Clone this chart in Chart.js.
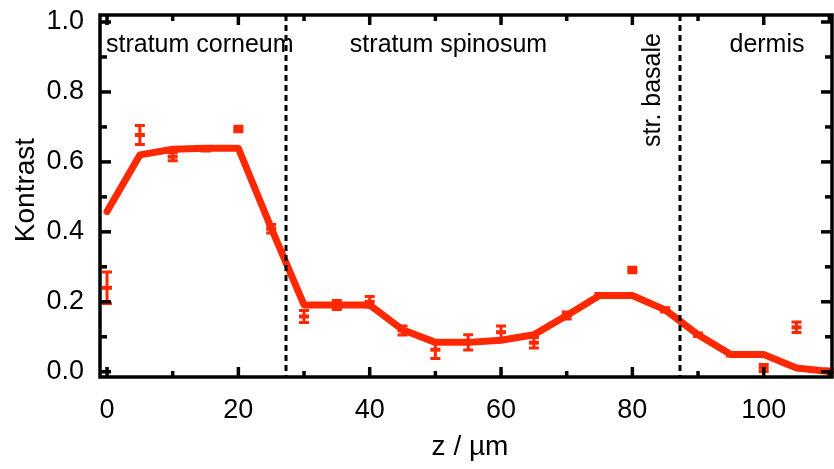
<!DOCTYPE html>
<html>
<head>
<meta charset="utf-8">
<script src="https://cdn.jsdelivr.net/npm/chart.js@4.4.0/dist/chart.umd.min.js"></script>
<style>
  html, body { margin: 0; padding: 0; background: #fff; }
  #wrap { width: 834px; height: 469px; }
</style>
</head>
<body>
<div id="wrap"><canvas id="kontrastChart"></canvas></div>
<script>
// Depth positions (µm)
const zValues = [0, 5, 10, 15, 20, 25, 30, 35, 40, 45, 50, 55, 60, 65, 70, 75, 80, 85, 90, 95, 100, 105, 110];
// Smoothed curve (thick line)
const fitValues = [0.458, 0.62, 0.636, 0.639, 0.639, 0.411, 0.191, 0.191, 0.191, 0.12, 0.084, 0.084, 0.09, 0.106, 0.161, 0.218, 0.218, 0.177, 0.106, 0.049, 0.049, 0.011, 0.001];
// Measured contrast with error
const measured = [0.24, 0.677, 0.615, 0.637, 0.694, 0.409, 0.158, 0.191, 0.2, 0.118, 0.063, 0.084, 0.113, 0.083, 0.161, 0.218, 0.291, 0.177, 0.106, 0.049, 0.011, 0.127, 0.003];
const measuredErr = [0.045, 0.027, 0.012, 0.006, 0.008, 0.012, 0.017, 0.013, 0.015, 0.013, 0.025, 0.022, 0.018, 0.015, 0.01, 0.006, 0.008, 0.006, 0.005, 0.004, 0.01, 0.015, 0.005];

// Axis ticks
const xTicks = [0, 20, 40, 60, 80, 100];
const xMinorTicks = [10, 30, 50, 70, 90, 110];
const yTicks = [0, 0.2, 0.4, 0.6, 0.8, 1.0];
const yMinorTicks = [0.1, 0.3, 0.5, 0.7, 0.9];

// Layer boundaries and names
const layerBounds = [27.3, 87.3];
const layerNames = ['stratum corneum', 'stratum spinosum', 'str. basale', 'dermis'];

const red = '#ff2800';
const font = '"Liberation Sans", Arial, sans-serif';

// Draw the frame, inward ticks, boundaries, error bars and labels
const decorations = {
    id: 'decorations',
    afterDatasetsDraw(chart) {
        const ctx = chart.ctx;
        const x = chart.scales.x, y = chart.scales.y;
        const ds = chart.data.datasets[1].data;
        ctx.save();
        ctx.strokeStyle = red;
        ctx.lineWidth = 3;
        ds.forEach((p, i) => {
            const px = x.getPixelForValue(p.x);
            const top = y.getPixelForValue(p.y + measuredErr[i]);
            const bot = y.getPixelForValue(p.y - measuredErr[i]);
            ctx.beginPath();
            ctx.moveTo(px, top); ctx.lineTo(px, bot);
            ctx.moveTo(px - 5, top); ctx.lineTo(px + 5, top);
            ctx.moveTo(px - 5, bot); ctx.lineTo(px + 5, bot);
            ctx.stroke();
        });
        ctx.restore();
    },
    afterDraw(chart) {
        const ctx = chart.ctx;
        const a = chart.chartArea;
        const x = chart.scales.x, y = chart.scales.y;
        ctx.save();

        // layer boundaries
        ctx.strokeStyle = '#000';
        ctx.lineWidth = 3;
        ctx.setLineDash([6, 4]);
        layerBounds.forEach(b => {
            const px = Math.round(x.getPixelForValue(b));
            ctx.beginPath();
            ctx.moveTo(px, a.top); ctx.lineTo(px, a.bottom);
            ctx.stroke();
        });
        ctx.setLineDash([]);

        // frame
        ctx.lineWidth = 3.5;
        ctx.strokeRect(a.left, a.top, a.right - a.left, a.bottom - a.top);

        // ticks
        const tick = (x1, y1, x2, y2) => { ctx.beginPath(); ctx.moveTo(x1, y1); ctx.lineTo(x2, y2); ctx.stroke(); };
        xTicks.forEach(v => {
            const px = x.getPixelForValue(v);
            tick(px, a.bottom, px, a.bottom - 10);
            tick(px, a.top, px, a.top + 10);
        });
        xMinorTicks.forEach(v => {
            const px = x.getPixelForValue(v);
            tick(px, a.bottom, px, a.bottom - 6);
            tick(px, a.top, px, a.top + 6);
        });
        yTicks.forEach(v => {
            const py = y.getPixelForValue(v);
            tick(a.left, py, a.left + 11, py);
            tick(a.right, py, a.right - 11, py);
        });
        yMinorTicks.forEach(v => {
            const py = y.getPixelForValue(v);
            tick(a.left, py, a.left + 7, py);
            tick(a.right, py, a.right - 7, py);
        });

        // layer names
        ctx.fillStyle = '#000';
        ctx.font = '25px ' + font;
        ctx.textBaseline = 'middle';
        const labelY = a.top + 30;
        ctx.textAlign = 'left';
        ctx.fillText(layerNames[0], a.left + 6, labelY);
        ctx.textAlign = 'center';
        ctx.fillText(layerNames[1], x.getPixelForValue(52), labelY);
        ctx.fillText(layerNames[3], x.getPixelForValue(100.5), labelY);
        ctx.save();
        ctx.translate(x.getPixelForValue(83.2), a.top + 75);
        ctx.rotate(-Math.PI / 2);
        ctx.fillText(layerNames[2], 0, 0);
        ctx.restore();

        // axis titles
        ctx.font = '28px ' + font;
        ctx.fillText('z / µm', (a.left + a.right) / 2 + 4, 447);
        ctx.save();
        ctx.translate(26, 190);
        ctx.rotate(-Math.PI / 2);
        ctx.fillText('Kontrast', 0, 0);
        ctx.restore();

        ctx.restore();
    }
};

new Chart(document.getElementById('kontrastChart').getContext('2d'), {
    type: 'line',
    data: {
        datasets: [{
            label: 'Fit',
            data: zValues.map((z, i) => ({ x: z, y: fitValues[i] })),
            borderColor: red,
            borderWidth: 7,
            pointRadius: 0,
            tension: 0,
            borderJoinStyle: 'round',
            borderCapStyle: 'round'
        }, {
            label: 'Messung',
            data: zValues.map((z, i) => ({ x: z, y: measured[i] })),
            showLine: false,
            pointStyle: 'line',
            pointRadius: 5,
            borderColor: red,
            backgroundColor: red,
            borderWidth: 4
        }]
    },
    options: {
        responsive: true,
        maintainAspectRatio: false,
        animation: false,
        layout: { autoPadding: false, padding: { left: 0, right: 2, top: 15, bottom: 0 } },
        plugins: {
            legend: { display: false },
            tooltip: { enabled: false }
        },
        scales: {
            x: {
                type: 'linear',
                min: -1.07,
                max: 110.4,
                afterBuildTicks: s => { s.ticks = xTicks.map(v => ({ value: v })); },
                afterFit: s => { s.height = 92; s.paddingLeft = 0; s.paddingRight = 0; },
                ticks: {
                    color: '#000',
                    font: { family: font, size: 27 },
                    padding: 9,
                    maxRotation: 0
                },
                grid: { display: false },
                border: { display: false }
            },
            y: {
                min: -0.015,
                max: 1.02,
                afterBuildTicks: s => { s.ticks = yTicks.map(v => ({ value: v })); },
                afterFit: s => { s.width = 100; s.paddingTop = 0; s.paddingBottom = 0; },
                ticks: {
                    color: '#000',
                    font: { family: font, size: 27 },
                    padding: 8,
                    callback: v => v.toFixed(1)
                },
                grid: { display: false },
                border: { display: false }
            }
        }
    },
    plugins: [decorations]
});
</script>
</body>
</html>
